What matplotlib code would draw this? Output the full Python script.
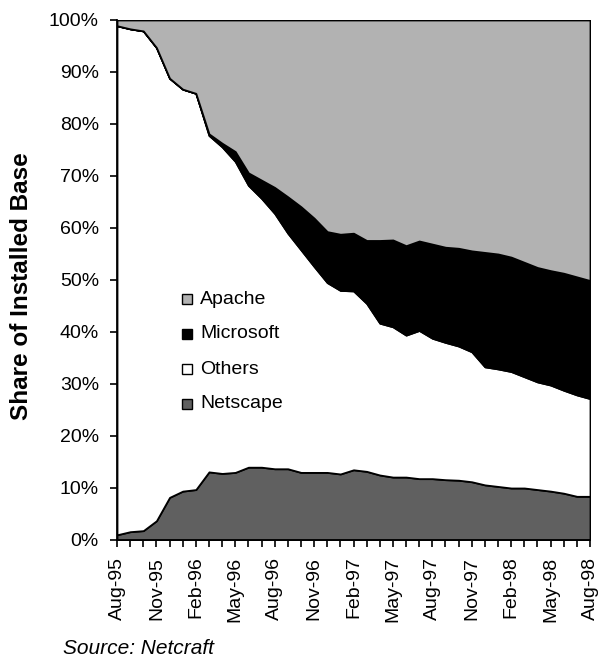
import matplotlib
matplotlib.use("Agg")
import matplotlib.pyplot as plt
import numpy as np
from matplotlib.patches import Rectangle

plt.rcParams['font.family'] = ['Liberation Sans', 'DejaVu Sans']

months = ["Aug-95", "Sep-95", "Oct-95", "Nov-95", "Dec-95", "Jan-96", "Feb-96", "Mar-96", "Apr-96",
          "May-96", "Jun-96", "Jul-96", "Aug-96", "Sep-96", "Oct-96", "Nov-96", "Dec-96", "Jan-97",
          "Feb-97", "Mar-97", "Apr-97", "May-97", "Jun-97", "Jul-97", "Aug-97", "Sep-97", "Oct-97",
          "Nov-97", "Dec-97", "Jan-98", "Feb-98", "Mar-98", "Apr-98", "May-98", "Jun-98", "Jul-98",
          "Aug-98"]

# cumulative boundaries (percent)
netscape = [1.0, 1.6, 1.8, 3.7, 8.2, 9.4, 9.7, 13.1, 12.8, 13.0, 14.0, 14.0, 13.7, 13.7, 13.0, 13.0,
            13.0, 12.7, 13.5, 13.2, 12.5, 12.1, 12.1, 11.8, 11.8, 11.6, 11.5, 11.2, 10.6, 10.3, 10.0,
            10.0, 9.7, 9.4, 9.0, 8.4, 8.4]
others_top = [98.9, 98.3, 97.9, 94.7, 88.8, 86.7, 85.9, 77.8, 75.6, 72.8, 68.2, 65.7, 62.8, 59.0,
              55.8, 52.6, 49.5, 48.0, 47.9, 45.5, 41.7, 41.0, 39.4, 40.3, 38.8, 38.0, 37.3, 36.2,
              33.3, 32.9, 32.4, 31.4, 30.4, 29.8, 28.8, 27.9, 27.2]
microsoft_top = [98.9, 98.3, 97.9, 94.7, 88.8, 86.7, 85.9, 78.1, 76.3, 74.7, 70.6, 69.2, 67.8, 66.0,
                 64.1, 61.9, 59.3, 58.8, 59.0, 57.6, 57.6, 57.7, 56.6, 57.5, 56.9, 56.3, 56.1, 55.6,
                 55.3, 55.0, 54.4, 53.4, 52.4, 51.8, 51.3, 50.6, 49.9]

series_names = ["Netscape", "Others", "Microsoft", "Apache"]
series_colors = ['#606060', '#ffffff', '#000000', '#b2b2b2']

ns = np.array(netscape)
others = np.array(others_top) - ns
microsoft = np.array(microsoft_top) - np.array(others_top)
apache = 100 - np.array(microsoft_top)

W, H = 605, 660
fig = plt.figure(figsize=(W / 100, H / 100), dpi=100)
ax = fig.add_axes([117 / W, 1 - 540 / H, (590 - 117) / W, (540 - 20) / H])

x = np.arange(len(months))
ax.stackplot(x, ns, others, microsoft, apache, colors=series_colors,
             edgecolor='black', linewidth=1.3)

ax.set_xlim(0, len(months) - 1)
ax.set_ylim(0, 100)
ax.set_yticks(np.arange(0, 101, 10))
ax.set_yticklabels([f"{v}%" for v in range(0, 101, 10)], fontsize=14)
ax.set_xticks(x, minor=True)
ax.set_xticks(x[::3])
ax.set_xticklabels(months[::3], rotation=90, fontsize=14)
ax.tick_params(axis='x', which='both', direction='out', length=5, width=1.2, pad=7)
ax.tick_params(axis='y', direction='out', length=5, width=1.2, pad=8)
for s in ['top', 'right']:
    ax.spines[s].set_visible(False)
for s in ['left', 'bottom']:
    ax.spines[s].set_linewidth(1.3)

ax.set_ylabel("Share of Installed Base", fontsize=17.5, fontweight='bold')
ax.yaxis.set_label_coords(-0.178, 0.489)

# legend (top to bottom: Apache, Microsoft, Others, Netscape)
for i, (name, col) in enumerate(zip(series_names[::-1], series_colors[::-1])):
    yc = 299 + 35 * i
    fig.patches.append(Rectangle((182 / W, 1 - (yc + 5) / H), 10 / W, 10 / H,
                                 transform=fig.transFigure, facecolor=col,
                                 edgecolor='black', linewidth=1.0))
    fig.text(200 / W, 1 - yc / H, name, fontsize=14, va='center', ha='left')

fig.text(63 / W, 1 - 648 / H, "Source: Netcraft", fontsize=15, style='italic',
         va='center', ha='left')

fig.savefig("out.png", dpi=100)
